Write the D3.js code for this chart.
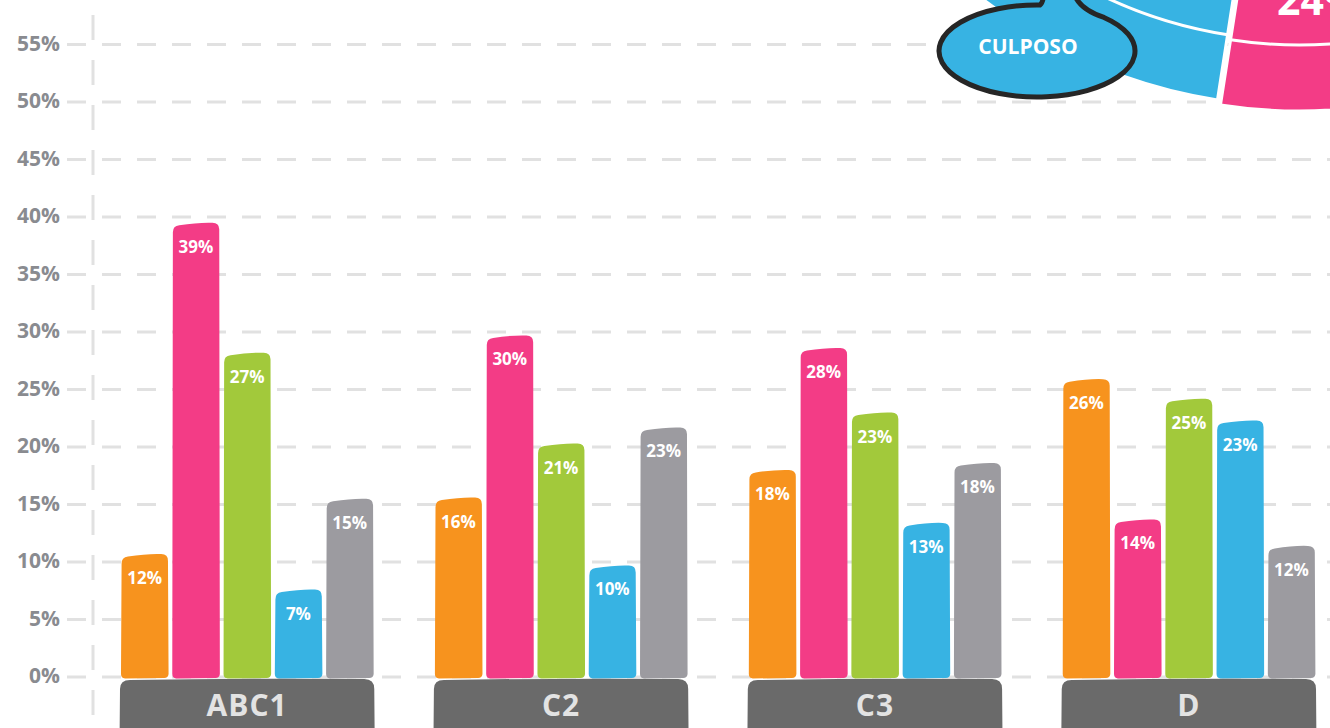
<!DOCTYPE html>
<html>
<head>
<meta charset="utf-8">
<script src="https://cdn.jsdelivr.net/npm/d3@7"></script>
<style>
	body{margin:0;background:#fff;overflow:hidden;}
	svg{display:block;font-family:"Open Sans","Noto Sans",sans-serif;}
</style>
</head>
<body>
<svg width="1330" height="728"></svg>
<script>
// categories and series
var categories = ["ABC1","C2","C3","D"];
var series = ["s1","s2","s3","s4","s5"];
var seriesColors = ["#f7931e","#f33c86","#a2c93b","#37b3e3","#9c9ba0"];

// printed labels (%), one array per category
var labelsABC1 = [12,39,27,7,15];
var labelsC2 = [16,30,21,10,23];
var labelsC3 = [18,28,23,13,18];
var labelsD = [26,14,25,23,12];

// bar heights as drawn in the picture (%)
var barsABC1 = [10.7,39.5,28.2,7.6,15.5];
var barsC2 = [15.6,29.7,20.3,9.7,21.7];
var barsC3 = [18.0,28.6,23.0,13.4,18.6];
var barsD = [25.9,13.7,24.2,22.3,11.4];

var yTicks = [0,5,10,15,20,25,30,35,40,45,50,55];

// pie fragment in the top right corner
var pieNames = ["DOLOSO","CULPOSO"];
var pieValues = [24,76];
var pieLabel = "24%";
var calloutText = "CULPOSO";

var Chart = (function(){
	var svg = d3.select("svg");
	var W = 1330, H = 728;
	var grid = "#e1e1e1";

	var labels = [labelsABC1,labelsC2,labelsC3,labelsD];
	var bars = [barsABC1,barsC2,barsC3,barsD];

	var y = d3.scaleLinear().domain([0,55]).range([677,44.5]);
	var x = d3.scaleBand().domain(categories).range([120,1316]).paddingInner(0.19);
	var xIn = d3.scaleBand().domain(series).range([1,x.bandwidth()-1]).paddingInner(0.08);
	var color = d3.scaleOrdinal().domain(series).range(seriesColors);

	// slightly hand drawn bar outline
	var barPath = function(x0,w,top,bottom){
		var x1 = x0+w, r = 7, rb = 4;
		var p = d3.path();
		p.moveTo(x0,bottom-rb);
		p.lineTo(x0+0.6,top+3+r);
		p.quadraticCurveTo(x0+0.4,top+3,x0+r,top+2.5);
		p.quadraticCurveTo(x0+w*0.55,top-0.5,x1-r,top);
		p.quadraticCurveTo(x1,top,x1-0.2,top+r);
		p.lineTo(x1+0.4,bottom-rb);
		p.quadraticCurveTo(x1,bottom,x1-rb,bottom);
		p.lineTo(x0+rb,bottom+0.5);
		p.quadraticCurveTo(x0,bottom,x0,bottom-rb);
		p.closePath();
		return p.toString();
	}

	var drawPie = function(){
		var cx = 1296, cy = -406;
		var rOuter = 512, rRing = 446;
		var boundary = Math.PI + 0.154;
		var start = boundary - 2*Math.PI*pieValues[0]/d3.sum(pieValues);
		var pie = d3.pie().sort(null).startAngle(start).endAngle(start + 2*Math.PI);
		var slices = pie(pieValues);
		var pieColors = ["#f33c86","#37b3e3"];
		var offsets = [[3,5],[0,0]];
		var arc = d3.arc().innerRadius(0).outerRadius(rOuter);
		var g = svg.append("g").attr("transform","translate("+cx+","+cy+")");
		var sg = g.selectAll("g.slice").data(slices).enter().append("g")
			.attr("class","slice")
			.attr("transform",function(d,i){return "translate("+offsets[i][0]+","+offsets[i][1]+")";});
		sg.append("path")
			.attr("d",arc)
			.attr("fill",function(d,i){return pieColors[i];})
			.attr("stroke","#fff").attr("stroke-width",3);
		sg.append("path")
			.attr("d",function(d){
				var p = d3.path();
				p.arc(0,0,rRing,d.startAngle - Math.PI/2,d.endAngle - Math.PI/2);
				return p.toString();
			})
			.attr("fill","none").attr("stroke","#fff").attr("stroke-width",3);
		svg.append("text")
			.attr("x",1277).attr("y",15)
			.attr("fill","#fff")
			.attr("font-size",41).attr("font-weight",700)
			.text(pieLabel);
	}

	var drawCallout = function(){
		var ex = 1037, ey = 51, rx = 98, ry = 46;
		var ax = 1040, bx = 1104;
		var ayPt = ey - ry*Math.sqrt(1-Math.pow((ax-ex)/rx,2));
		var byPt = ey - ry*Math.sqrt(1-Math.pow((bx-ex)/rx,2));
		var p = "M"+ax+","+ayPt+
			" A"+rx+" "+ry+" 0 1 0 "+bx+","+byPt+
			" Q1075,8 1073,-12 L1044,-12 Q1044,2 "+ax+","+ayPt+" Z";
		svg.append("path")
			.attr("d",p)
			.attr("fill","#37b3e3")
			.attr("stroke","#262626")
			.attr("stroke-width",5)
			.attr("stroke-linejoin","round");
		svg.append("text")
			.attr("x",1028).attr("y",54)
			.attr("text-anchor","middle")
			.attr("fill","#fff")
			.attr("font-size",21).attr("font-weight",700)
			.text(calloutText);
	}

	var drawAxes = function(){
		var g = svg.append("g");
		g.selectAll("line.grid").data(yTicks).enter().append("line")
			.attr("class","grid")
			.attr("x1",67).attr("x2",W)
			.attr("y1",function(d){return y(d);})
			.attr("y2",function(d){return y(d);})
			.attr("stroke",grid).attr("stroke-width",3)
			.attr("stroke-dasharray","19,16");
		g.append("line")
			.attr("x1",93).attr("x2",93)
			.attr("y1",15).attr("y2",H)
			.attr("stroke",grid).attr("stroke-width",3)
			.attr("stroke-dasharray","25,20");
		g.selectAll("text.tick").data(yTicks).enter().append("text")
			.attr("class","tick")
			.attr("x",60)
			.attr("y",function(d){return y(d)+6;})
			.attr("text-anchor","end")
			.attr("fill","#898b90")
			.attr("font-size",21).attr("font-weight",700)
			.text(function(d){return d+"%";});
	}

	var drawBars = function(){
		var groups = svg.selectAll("g.cat").data(categories).enter().append("g")
			.attr("class","cat")
			.attr("transform",function(d){return "translate("+x(d)+",0)";});

		groups.each(function(cat,ci){
			var g = d3.select(this);
			var rows = series.map(function(s,si){
				return {s:s, h:bars[ci][si], label:labels[ci][si]};
			});
			g.selectAll("path.bar").data(rows).enter().append("path")
				.attr("class","bar")
				.attr("d",function(d){return barPath(xIn(d.s),xIn.bandwidth(),y(d.h),y(0)+1);})
				.attr("fill",function(d){return color(d.s);});
			g.selectAll("text.val").data(rows).enter().append("text")
				.attr("class","val")
				.attr("x",function(d){return xIn(d.s)+xIn.bandwidth()/2;})
				.attr("y",function(d){return y(d.h)+30;})
				.attr("text-anchor","middle")
				.attr("fill","#fff")
				.attr("font-size",17).attr("font-weight",700)
				.text(function(d){return d.label+"%";});

			// category plate
			var w = x.bandwidth(), t = 679;
			var p = d3.path();
			p.moveTo(0,t+10);
			p.quadraticCurveTo(0,t+1,10,t+1);
			p.quadraticCurveTo(w*0.5,t-1,w-10,t);
			p.quadraticCurveTo(w,t,w,t+10);
			p.lineTo(w+0.5,H+20);
			p.lineTo(-0.5,H+20);
			p.closePath();
			g.append("path").attr("d",p.toString()).attr("fill","#6a6a6a");
			g.append("text")
				.attr("x",w/2).attr("y",716)
				.attr("text-anchor","middle")
				.attr("fill","#e3e3e3")
				.attr("font-size",30).attr("font-weight",700)
				.attr("letter-spacing",1)
				.text(cat);
		});
	}

	return {
		render : function(){
			drawAxes();
			drawPie();
			drawCallout();
			drawBars();
		}
	}
})();

Chart.render();
</script>
</body>
</html>
